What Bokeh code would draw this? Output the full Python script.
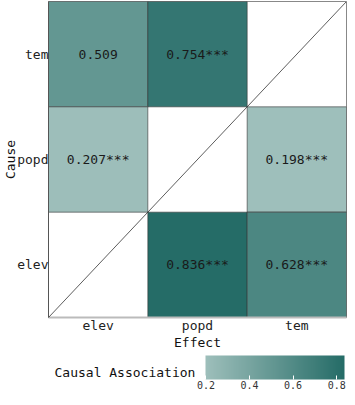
import numpy as np
from bokeh.plotting import figure
from bokeh.models import (ColumnDataSource, LinearColorMapper, ColorBar, FixedTicker,
                          Slope, Title, NumeralTickFormatter)
from bokeh.embed import file_html
from bokeh.resources import INLINE
from bokeh.core.properties import value

# ---- data ----
variables = ["elev", "popd", "tem"]
cause = ["tem", "tem", "popd", "popd", "elev", "elev"]
effect = ["elev", "popd", "elev", "tem", "popd", "tem"]
strength = [0.509, 0.754, 0.207, 0.198, 0.836, 0.628]
signif = ["", "***", "***", "***", "***", "***"]
cbar_ticks = [0.2, 0.4, 0.6, 0.8]

labels = [f"{v:.3f}{s}" for v, s in zip(strength, signif)]

# ---- styling ----
FONT = value("DejaVu Sans Mono")
LOW_COLOR = (0x9e, 0xbf, 0xbb)
HIGH_COLOR = (0x25, 0x6c, 0x67)
palette = []
for t in np.linspace(0, 1, 256):
    c = [int(round(a + (b - a) * t)) for a, b in zip(LOW_COLOR, HIGH_COLOR)]
    palette.append("#%02x%02x%02x" % tuple(c))

mapper = LinearColorMapper(palette=palette, low=min(strength), high=max(strength))

src = ColumnDataSource(dict(cause=cause, effect=effect, strength=strength, label=labels))

p = figure(x_range=variables, y_range=variables, width=347, height=389,
           output_backend="svg", toolbar_location=None,
           min_border_left=0, min_border_right=1, min_border_top=1, min_border_bottom=72,
           x_axis_label="Effect", y_axis_label="Cause")
p.grid.visible = False
p.outline_line_color = "#888888"
p.background_fill_color = "white"

p.rect(x="effect", y="cause", width=1, height=1, source=src,
       fill_color={"field": "strength", "transform": mapper},
       line_color="#333333", line_alpha=0.6, line_width=1)
p.text(x="effect", y="cause", text="label", source=src,
       text_align="center", text_baseline="middle",
       text_font=FONT, text_font_size="13px", text_color="#1a1a1a")
p.add_layout(Slope(gradient=1, y_intercept=0, line_color="#333333", line_width=0.8))

for ax in (p.xaxis, p.yaxis):
    ax.major_tick_out = 0
    ax.major_tick_in = 0
    ax.minor_tick_out = 0
    ax.minor_tick_in = 0
    ax.major_label_text_font = "DejaVu Sans Mono"
    ax.major_label_text_font_size = "13px"
    ax.major_label_text_color = "#222222"
    ax.axis_label_text_font = "DejaVu Sans Mono"
    ax.axis_label_text_font_size = "13px"
    ax.axis_label_text_font_style = "normal"
    ax.axis_label_text_color = "#111111"
p.xaxis.axis_line_color = "#bbbbbb"
p.xaxis.axis_line_width = 2
p.yaxis.axis_line_color = "#555555"
p.xaxis.major_label_standoff = 0
p.xaxis.axis_label_standoff = -1
p.yaxis.major_label_standoff = 0
p.yaxis.axis_label_standoff = -4

# ---- colour bar (below the frame) ----
FRAME_LEFT = 48  # approx absolute x of frame left edge in the page
cb = ColorBar(color_mapper=mapper, orientation="horizontal", width=139, height=24,
              location=(205 - FRAME_LEFT, -74), padding=0,
              ticker=FixedTicker(ticks=cbar_ticks),
              formatter=NumeralTickFormatter(format="0.0"),
              major_label_text_font="DejaVu Sans Mono", major_label_text_font_size="10px",
              major_label_text_color="#333333",
              major_tick_in=4, major_tick_out=0, major_tick_line_color="white",
              bar_line_color=None, background_fill_alpha=0, border_line_color=None,
              label_standoff=1)
p.add_layout(cb, "center")
p.add_layout(Title(text="Causal Association", align="left", offset=54 - FRAME_LEFT,
                   standoff=20, text_font="DejaVu Sans Mono", text_font_size="13px",
                   text_font_style="normal", text_color="#111111"), "below")

open("out.html", "w").write(file_html(p, INLINE))
